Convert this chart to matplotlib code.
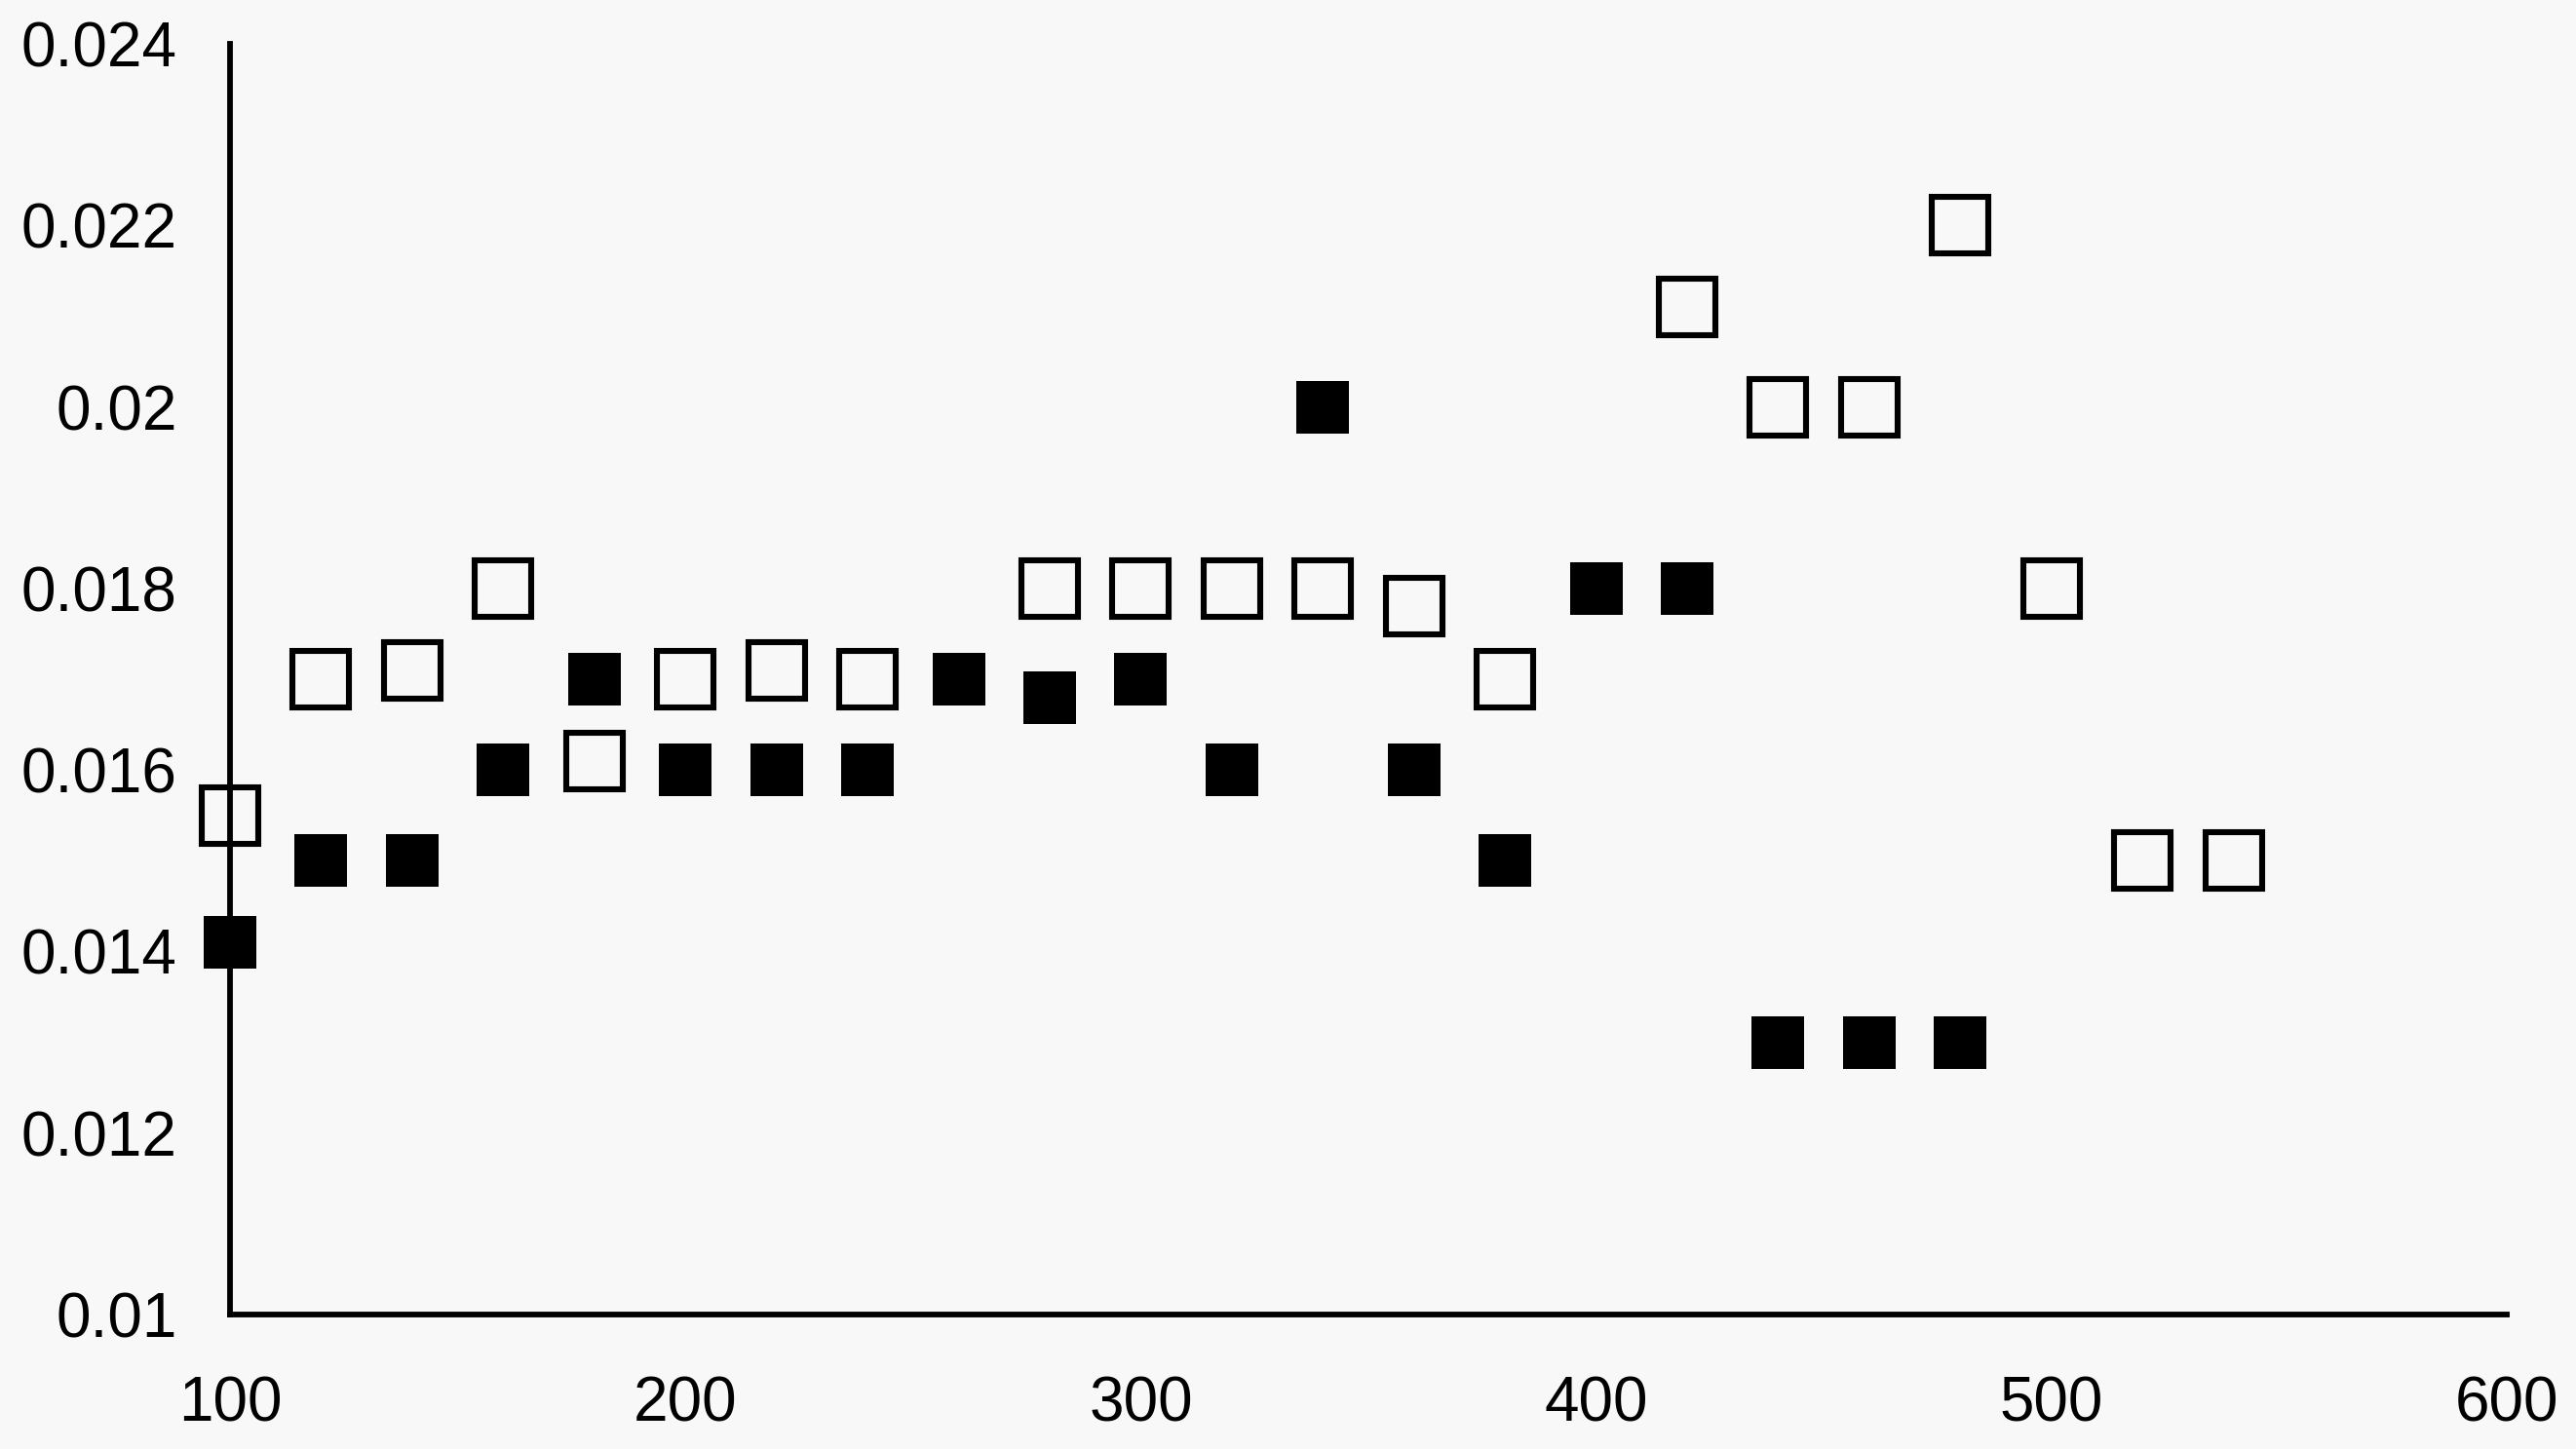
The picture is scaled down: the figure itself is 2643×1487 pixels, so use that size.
import matplotlib
matplotlib.use("Agg")
import matplotlib.pyplot as plt

# filled squares
filled_x = [100, 120, 140, 160, 180, 200, 220, 240, 260, 280, 300, 320, 340, 360, 380, 400, 420, 440, 460, 480]
filled_y = [0.0141, 0.0150, 0.0150, 0.0160, 0.0170, 0.0160, 0.0160, 0.0160, 0.0170, 0.0168, 0.0170, 0.0160,
            0.0200, 0.0160, 0.0150, 0.0180, 0.0180, 0.0130, 0.0130, 0.0130]

# open squares
open_x = [100, 120, 140, 160, 180, 200, 220, 240, 280, 300, 320, 340, 360, 380, 420, 440, 460, 480, 500, 520, 540]
open_y = [0.0155, 0.0170, 0.0171, 0.0180, 0.0161, 0.0170, 0.0171, 0.0170, 0.0180, 0.0180, 0.0180, 0.0180,
          0.0178, 0.0170, 0.0211, 0.0200, 0.0200, 0.0220, 0.0180, 0.0150, 0.0150]

x_ticks = [100, 200, 300, 400, 500, 600]
y_ticks = [0.01, 0.012, 0.014, 0.016, 0.018, 0.02, 0.022, 0.024]
y_labels = ["0.01", "0.012", "0.014", "0.016", "0.018", "0.02", "0.022", "0.024"]

plt.rcParams['font.family'] = ['Liberation Sans', 'DejaVu Sans']

W, H = 2643, 1487
fig = plt.figure(figsize=(W / 100, H / 100), dpi=100, facecolor='#f9f8f8')
ax = fig.add_axes([236 / W, 1 - 1349 / H, (2572 - 236) / W, (1349 - 45) / H])
ax.set_facecolor('none')

ax.plot(filled_x, filled_y, linestyle='none', marker='s', markersize=39,
        markerfacecolor='black', markeredgewidth=0, clip_on=False, zorder=3)
ax.plot(open_x, open_y, linestyle='none', marker='s', markersize=42,
        markerfacecolor='none', markeredgecolor='black', markeredgewidth=4.4,
        clip_on=False, zorder=3)

ax.set_xlim(100, 600)
ax.set_ylim(0.01, 0.024)
ax.set_xticks(x_ticks)
ax.set_xticklabels([str(v) for v in x_ticks])
ax.set_yticks(y_ticks)
ax.set_yticklabels(y_labels)
ax.tick_params(axis='both', length=0, labelsize=46)
ax.tick_params(axis='x', pad=45)
ax.tick_params(axis='y', pad=39)

for s in ['top', 'right']:
    ax.spines[s].set_visible(False)
for s in ['left', 'bottom']:
    ax.spines[s].set_linewidth(4.2)
    ax.spines[s].set_zorder(4)

fig.savefig('out.png', dpi=100, facecolor=fig.get_facecolor())
